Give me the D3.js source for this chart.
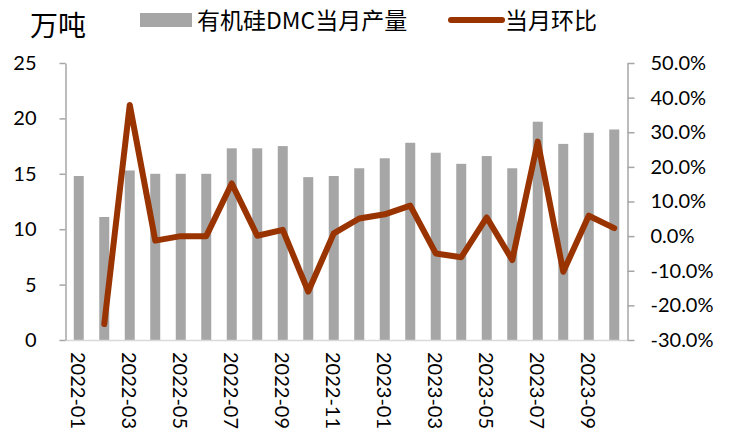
<!DOCTYPE html>
<html>
<head>
<meta charset="utf-8">
<script src="https://cdn.jsdelivr.net/npm/d3@7"></script>
<style>
  body { margin: 0; background: #fff; }
  text { font-family: Lato, "Noto Sans CJK SC", sans-serif; fill: #000; }
  .cn { font-family: "Noto Sans CJK SC", sans-serif; }
</style>
</head>
<body>
<div id="chart"></div>
<script>
// 月份
const months = [
  "2022-01", "2022-02", "2022-03", "2022-04", "2022-05", "2022-06",
  "2022-07", "2022-08", "2022-09", "2022-10", "2022-11", "2022-12",
  "2023-01", "2023-02", "2023-03", "2023-04", "2023-05", "2023-06",
  "2023-07", "2023-08", "2023-09", "2023-10"
];
// 有机硅DMC当月产量 (万吨)
const output = [
  14.8, 11.1, 15.3, 15.0, 15.0, 15.0, 17.3, 17.3, 17.5, 14.7, 14.8, 15.5,
  16.4, 17.8, 16.9, 15.9, 16.6, 15.5, 19.7, 17.7, 18.7, 19.0
];
// 当月环比 (%)
const mom = [
  null, -25.4, 37.9, -1.3, 0.0, 0.0, 15.2, 0.1, 1.8, -16.0, 0.8, 5.1,
  6.3, 8.8, -5.0, -6.1, 5.4, -6.9, 27.3, -10.3, 5.9, 2.3
];
const leftTicks = [0, 5, 10, 15, 20, 25];
const rightTicks = [-30, -20, -10, 0, 10, 20, 30, 40, 50];
const xLabels = months.filter((d, i) => i % 2 === 0);

const W = 734, H = 439;
const X0 = 66, X1 = 627, Y0 = 340, Y1 = 63;

const svg = d3.select("#chart").append("svg")
  .attr("width", W)
  .attr("height", H);

const xc = d3.scalePoint().domain(months).range([X0, X1]).padding(0.5);
const y = d3.scaleLinear().domain([0, 25]).range([Y0, Y1]);
const y2 = d3.scaleLinear().domain([-30, 50]).range([Y0, Y1]);

// bars
svg.append("g")
  .selectAll("rect")
  .data(months)
  .enter()
  .append("rect")
  .attr("x", d => xc(d) - 5)
  .attr("width", 10)
  .attr("y", (d, i) => y(output[i]))
  .attr("height", (d, i) => Y0 - y(output[i]))
  .attr("fill", "#a6a6a6");

// bottom axis line
svg.append("line")
  .attr("x1", X0).attr("x2", X1)
  .attr("y1", Y0 + 0.5).attr("y2", Y0 + 0.5)
  .attr("stroke", "#d9d9d9").attr("stroke-width", 1.5);

// left axis
const gl = svg.append("g")
  .attr("transform", `translate(${X0 - 0.5},0)`)
  .call(d3.axisLeft(y).tickValues(leftTicks).tickSize(6).tickPadding(23).tickSizeOuter(0));
gl.select(".domain").attr("stroke", "#a6a6a6").attr("stroke-width", 1.5);
gl.selectAll(".tick line").attr("stroke", "#a6a6a6").attr("stroke-width", 1.5);
gl.selectAll(".tick text").style("font-size", "20px").attr("fill", "#000");

// right axis
const gr = svg.append("g")
  .attr("transform", `translate(${X1 + 0.5},0)`)
  .call(d3.axisRight(y2).tickValues(rightTicks).tickSize(7).tickPadding(16).tickSizeOuter(0)
    .tickFormat(d => d.toFixed(1) + "%"));
gr.select(".domain").attr("stroke", "#a6a6a6").attr("stroke-width", 1.5);
gr.selectAll(".tick line").attr("stroke", "#a6a6a6").attr("stroke-width", 1.5);
gr.selectAll(".tick text").style("font-size", "20px").attr("fill", "#000");

// x labels rotated
svg.append("g")
  .selectAll("text")
  .data(xLabels)
  .enter()
  .append("text")
  .attr("transform", d => `translate(${xc(d)},352) rotate(90)`)
  .attr("dominant-baseline", "central")
  .style("font-size", "20px")
  .text(d => d);

// line
const line = d3.line()
  .defined(d => d[1] !== null)
  .x(d => xc(d[0]))
  .y(d => y2(d[1]));

svg.append("path")
  .datum(months.map((m, i) => [m, mom[i]]))
  .attr("d", line)
  .attr("fill", "none")
  .attr("stroke", "#993300")
  .attr("stroke-width", 6)
  .attr("stroke-linejoin", "round")
  .attr("stroke-linecap", "round");

// unit
svg.append("text")
  .attr("class", "cn")
  .attr("x", 30).attr("y", 36)
  .style("font-size", "28px")
  .text("万吨");

// legend
svg.append("rect")
  .attr("x", 140).attr("y", 13)
  .attr("width", 52).attr("height", 14)
  .attr("fill", "#a6a6a6");
svg.append("text")
  .attr("class", "cn")
  .attr("x", 197).attr("y", 29)
  .style("font-size", "23px")
  .text("有机硅DMC当月产量");

svg.append("line")
  .attr("x1", 451).attr("x2", 502)
  .attr("y1", 20).attr("y2", 20)
  .attr("stroke", "#993300")
  .attr("stroke-width", 6)
  .attr("stroke-linecap", "round");
svg.append("text")
  .attr("class", "cn")
  .attr("x", 505).attr("y", 29)
  .style("font-size", "23px")
  .text("当月环比");
</script>
</body>
</html>
